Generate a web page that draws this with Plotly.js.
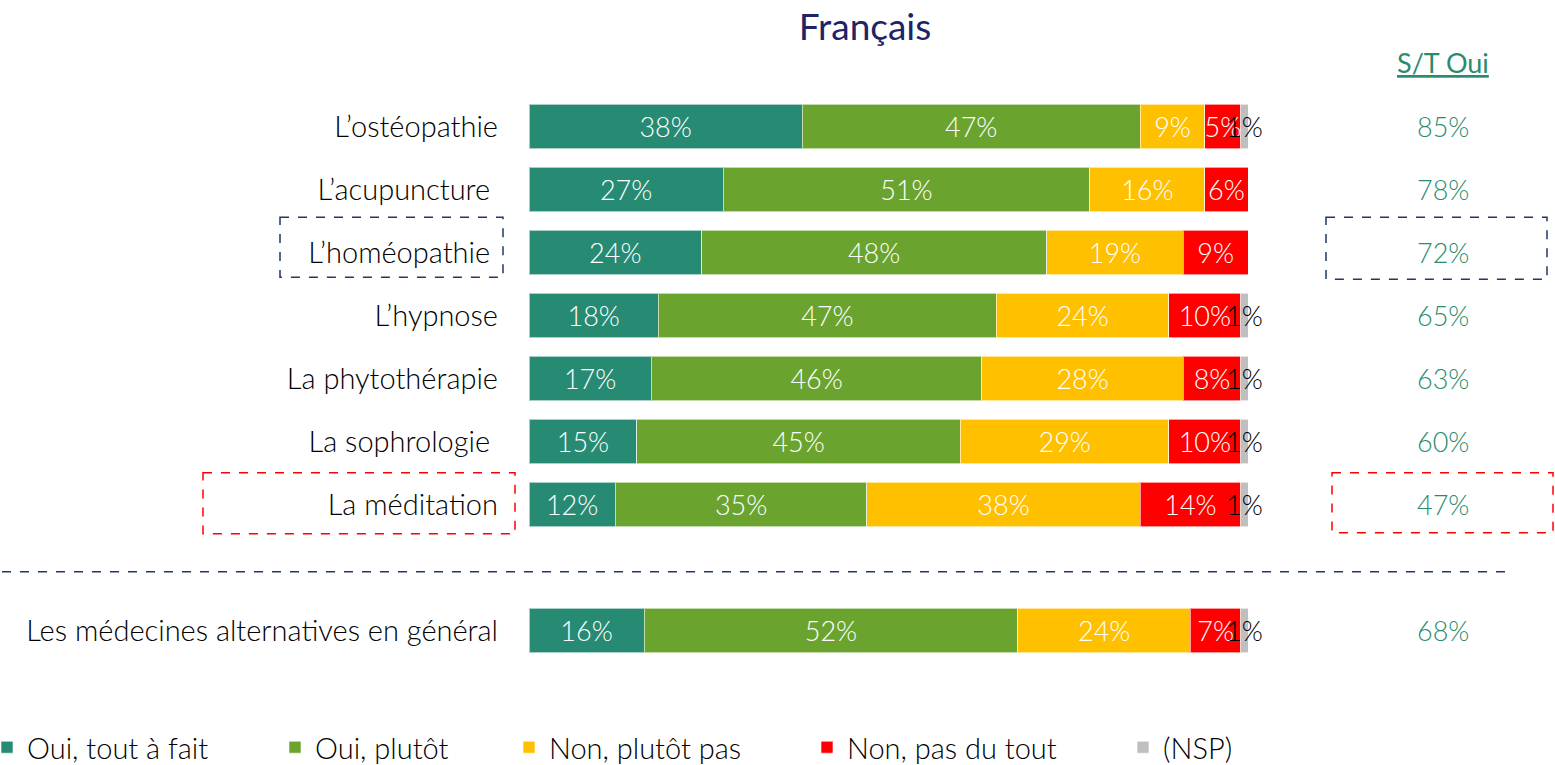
<!DOCTYPE html>
<html>
<head>
<meta charset="utf-8">
<script src="https://cdn.plot.ly/plotly-3.0.1.min.js"></script>
<style>html,body{margin:0;padding:0;background:#fff;}#chart{width:1555px;height:765px;}</style>
</head>
<body>
<div id="chart"></div>
<script>
// ---- data ----
var categories = ["L’ostéopathie", "L’acupuncture\u00a0", "L’homéopathie\u00a0", "L’hypnose", "La phytothérapie", "La sophrologie\u00a0", "La méditation", "Les médecines alternatives en général"];
var positions = [0, 1, 2, 3, 4, 5, 6, 8];
var seriesNames = ["Oui, tout à fait", "Oui, plutôt", "Non, plutôt pas", "Non, pas du tout", "(NSP)"];
var ouiToutAFait = [38, 27, 24, 18, 17, 15, 12, 16];
var ouiPlutot    = [47, 51, 48, 47, 46, 45, 35, 52];
var nonPlutotPas = [9, 16, 19, 24, 28, 29, 38, 24];
var nonPasDuTout = [5, 6, 9, 10, 8, 10, 14, 7];
var nsp          = [1, 0, 0, 1, 1, 1, 1, 1];
var colors = ["#278B73", "#6AA42F", "#FFC000", "#FF0000", "#BFBFBF"];
var textColors = ["#ffffff", "#ffffff", "#ffffff", "#ffffff", "#000000"];
var stOuiTitle = "S/T Oui";

var allSeries = [ouiToutAFait, ouiPlutot, nonPlutotPas, nonPasDuTout, nsp];
var legendX = [2, 290, 524, 822, 1138];
var FONT = "Lato, 'Open Sans', sans-serif";

var traces = allSeries.map(function (vals, i) {
  return {
    type: "bar",
    orientation: "h",
    name: seriesNames[i],
    y: positions,
    x: vals,
    text: vals.map(function (v) { return v ? v + "%" : ""; }),
    textposition: "inside",
    insidetextanchor: "middle",
    textangle: 0,
    constraintext: "none",
    cliponaxis: false,
    insidetextfont: { color: textColors[i], size: 27, family: FONT, weight: 300 },
    marker: { color: colors[i], line: { color: "rgba(255,255,255,0.6)", width: 1 } },
    width: 0.7,
    hoverinfo: "skip",
    legend: i === 0 ? "legend" : "legend" + (i + 1)
  };
});

// pixel helpers for decorations
var plotL = 529, plotR = 1248, plotT = 94.5, plotB = 662.5;
function px(x) { return (x - plotL) / (plotR - plotL); }
function py(y) { return (plotB - y) / (plotB - plotT); }

var annotations = [];
annotations.push({
  xref: "paper", yref: "paper", x: px(1443), y: py(62),
  text: "<u>" + stOuiTitle + "</u>", showarrow: false,
  font: { size: 27, color: "#2A8C6E", family: FONT },
  xanchor: "center", yanchor: "middle"
});
positions.forEach(function (p, k) {
  annotations.push({
    xref: "paper", yref: "y", x: px(1443), y: p,
    text: (ouiToutAFait[k] + ouiPlutot[k]) + "%", showarrow: false,
    font: { size: 27, color: "#2A8C6E", family: FONT, weight: 300 },
    xanchor: "center", yanchor: "middle"
  });
});

var shapes = [
  { type: "rect", xref: "paper", yref: "paper", x0: px(280), x1: px(503), y0: py(217), y1: py(277), line: { color: "#1F3864", width: 1.5, dash: "dash" } },
  { type: "rect", xref: "paper", yref: "paper", x0: px(1326), x1: px(1547), y0: py(217), y1: py(279), line: { color: "#1F3864", width: 1.5, dash: "dash" } },
  { type: "rect", xref: "paper", yref: "paper", x0: px(203), x1: px(515), y0: py(473), y1: py(534), line: { color: "#FF0000", width: 1.5, dash: "dash" } },
  { type: "rect", xref: "paper", yref: "paper", x0: px(1332), x1: px(1553), y0: py(473), y1: py(533), line: { color: "#FF0000", width: 1.5, dash: "dash" } },
  { type: "line", xref: "paper", yref: "paper", x0: px(2), x1: px(1510), y0: py(572), y1: py(572), line: { color: "#1F3864", width: 1.5, dash: "dash" } }
];

var layout = {
  width: 1555, height: 765,
  margin: { l: plotL, r: 1555 - plotR, t: plotT, b: 765 - plotB, pad: 0, autoexpand: false },
  paper_bgcolor: "#ffffff", plot_bgcolor: "#ffffff",
  barmode: "stack",
  font: { family: FONT, size: 24, color: "#000000" },
  title: { text: "Français", x: 865 / 1555, xref: "container", xanchor: "center", y: 1 - 27 / 765, yref: "container", yanchor: "middle",
           font: { size: 37, color: "#1F2466", family: FONT } },
  xaxis: { range: [0, 100], visible: false, fixedrange: true },
  yaxis: { range: [8.5, -0.5], tickvals: positions, ticktext: categories, showgrid: false, zeroline: false, showline: false,
           ticks: "", ticklabelstandoff: 30, tickfont: { size: 29, color: "#000000", family: FONT, weight: 300 }, fixedrange: true },
  uniformtext: { mode: "show", minsize: 27 },
  showlegend: true,
  annotations: annotations,
  shapes: shapes
};
legendX.forEach(function (lx, i) {
  var key = i === 0 ? "legend" : "legend" + (i + 1);
  layout[key] = { xref: "paper", yref: "paper", x: px(lx - 15), y: py(748), xanchor: "left", yanchor: "middle",
                  orientation: "h", bgcolor: "rgba(0,0,0,0)", font: { size: 29, color: "#000000", family: FONT, weight: 300 }, itemwidth: 30 };
});

Plotly.newPlot("chart", traces, layout, { displayModeBar: false, staticPlot: true });
</script>
</body>
</html>
